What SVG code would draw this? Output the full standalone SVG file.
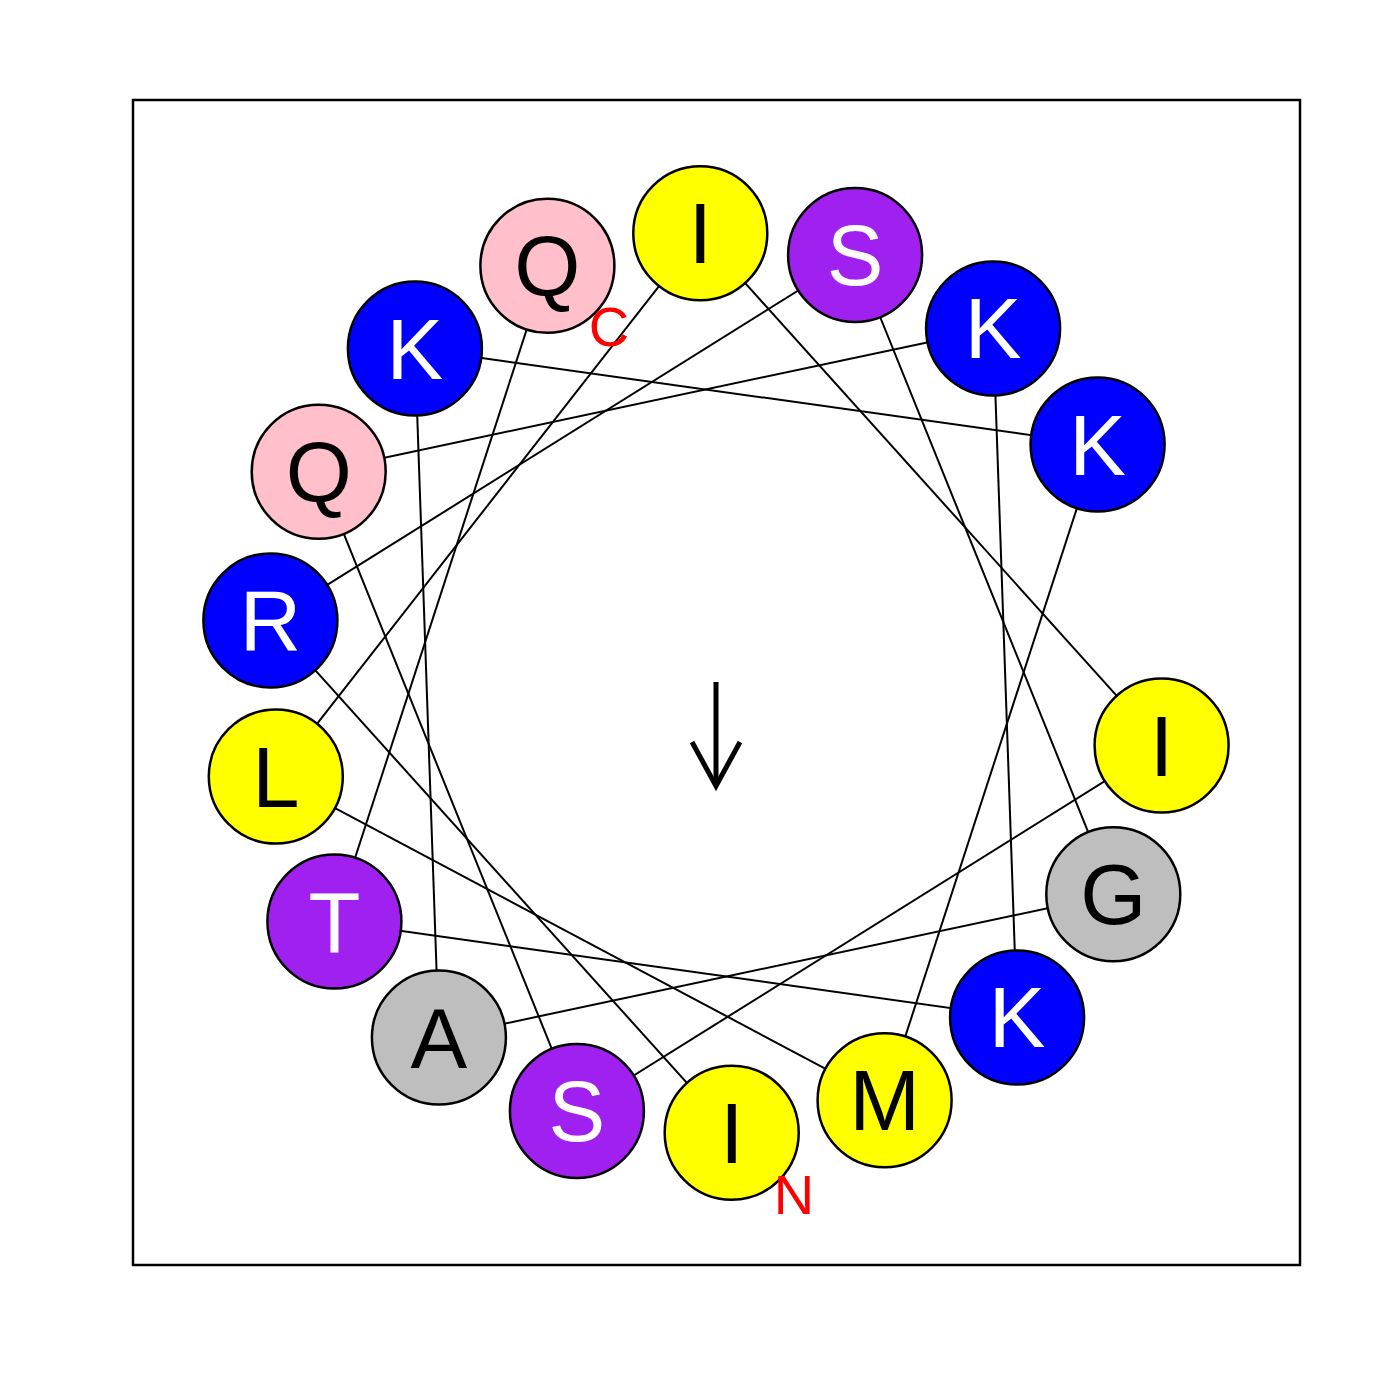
<svg xmlns="http://www.w3.org/2000/svg" width="1400" height="1400" viewBox="0 0 1400 1400">
<style>
.bg{fill:#fff}
.frame{fill:none;stroke:#000;stroke-width:2.5}
.con line{stroke:#000;stroke-width:2}
circle{stroke:#000;stroke-width:2.5}
.y{fill:#ffff00}.b{fill:#0000ff}.p{fill:#a020f0}.k{fill:#ffc0cb}.g{fill:#bebebe}
text{font-family:"Liberation Sans",Arial,sans-serif;text-anchor:middle}
.lb{font-size:85px;fill:#000}.lw{font-size:85px;fill:#fff}
.term{font-size:56px;fill:#ff0000}
.arrow{stroke:#000;stroke-width:5;fill:none}
</style>
<rect class="bg" width="1400" height="1400"/>
<rect class="frame" x="133" y="100" width="1167" height="1165"/>
<g id="connectors" class="con">
<line x1="731.7" y1="1132.7" x2="270.4" y2="620.4"/>
<line x1="270.4" y1="620.4" x2="855.1" y2="255.0"/>
<line x1="855.1" y1="255.0" x2="1113.3" y2="894.3"/>
<line x1="1113.3" y1="894.3" x2="438.9" y2="1037.6"/>
<line x1="438.9" y1="1037.6" x2="414.9" y2="348.6"/>
<line x1="414.9" y1="348.6" x2="1097.6" y2="444.5"/>
<line x1="1097.6" y1="444.5" x2="884.6" y2="1100.2"/>
<line x1="884.6" y1="1100.2" x2="275.8" y2="776.6"/>
<line x1="275.8" y1="776.6" x2="700.3" y2="233.3"/>
<line x1="700.3" y1="233.3" x2="1161.6" y2="745.6"/>
<line x1="1161.6" y1="745.6" x2="576.9" y2="1111.0"/>
<line x1="576.9" y1="1111.0" x2="318.7" y2="471.7"/>
<line x1="318.7" y1="471.7" x2="993.1" y2="328.4"/>
<line x1="993.1" y1="328.4" x2="1017.1" y2="1017.4"/>
<line x1="1017.1" y1="1017.4" x2="334.4" y2="921.5"/>
<line x1="334.4" y1="921.5" x2="547.4" y2="265.8"/>
</g>
<g id="n1"><circle class="y" cx="731.7" cy="1132.7" r="67"/><text class="lb" x="731.7" y="1162.7">I</text></g>
<g id="n2"><circle class="b" cx="270.4" cy="620.4" r="67"/><text class="lw" x="270.4" y="650.4">R</text></g>
<g id="n3"><circle class="p" cx="855.1" cy="255.0" r="67"/><text class="lw" x="855.1" y="285.0">S</text></g>
<g id="n4"><circle class="g" cx="1113.3" cy="894.3" r="67"/><text class="lb" x="1113.3" y="924.3">G</text></g>
<g id="n5"><circle class="g" cx="438.9" cy="1037.6" r="67"/><text class="lb" x="438.9" y="1067.6">A</text></g>
<g id="n6"><circle class="b" cx="414.9" cy="348.6" r="67"/><text class="lw" x="414.9" y="378.6">K</text></g>
<g id="n7"><circle class="b" cx="1097.6" cy="444.5" r="67"/><text class="lw" x="1097.6" y="474.5">K</text></g>
<g id="n8"><circle class="y" cx="884.6" cy="1100.2" r="67"/><text class="lb" x="884.6" y="1130.2">M</text></g>
<g id="n9"><circle class="y" cx="275.8" cy="776.6" r="67"/><text class="lb" x="275.8" y="806.6">L</text></g>
<g id="n10"><circle class="y" cx="700.3" cy="233.3" r="67"/><text class="lb" x="700.3" y="263.3">I</text></g>
<g id="n11"><circle class="y" cx="1161.6" cy="745.6" r="67"/><text class="lb" x="1161.6" y="775.6">I</text></g>
<g id="n12"><circle class="p" cx="576.9" cy="1111.0" r="67"/><text class="lw" x="576.9" y="1141.0">S</text></g>
<g id="n13"><circle class="k" cx="318.7" cy="471.7" r="67"/><text class="lb" x="318.7" y="501.7">Q</text></g>
<g id="n14"><circle class="b" cx="993.1" cy="328.4" r="67"/><text class="lw" x="993.1" y="358.4">K</text></g>
<g id="n15"><circle class="b" cx="1017.1" cy="1017.4" r="67"/><text class="lw" x="1017.1" y="1047.4">K</text></g>
<g id="n16"><circle class="p" cx="334.4" cy="921.5" r="67"/><text class="lw" x="334.4" y="951.5">T</text></g>
<g id="n17"><circle class="k" cx="547.4" cy="265.8" r="67"/><text class="lb" x="547.4" y="295.8">Q</text></g>
<text class="term" x="794" y="1214">N</text>
<text class="term" x="609" y="346">C</text>
<g id="moment" class="arrow">
<line x1="716" y1="682" x2="716" y2="786"/>
<polyline points="692,742 716,786 740,742"/>
</g>
</svg>
